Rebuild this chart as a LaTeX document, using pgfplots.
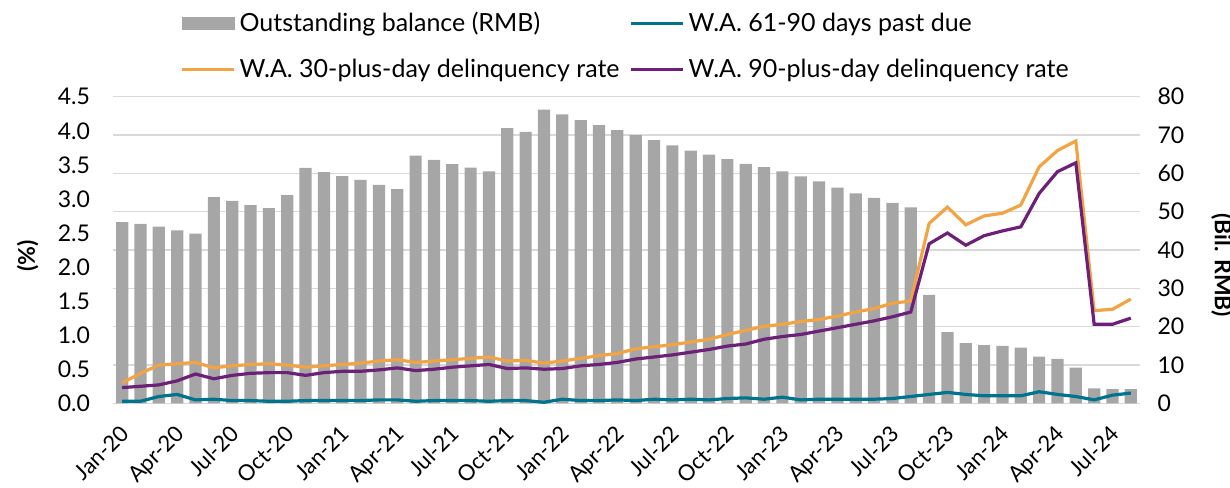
\documentclass[border=0pt]{standalone}
\usepackage{pgfplots}
\pgfplotsset{compat=1.18}
\usepackage{pgfplotstable}
\usepackage{fontspec}
\setmainfont{Lato}

\definecolor{barGray}{HTML}{A6A6A6}
\definecolor{gridGray}{HTML}{D9D9D9}
\definecolor{tealLine}{HTML}{00748C}
\definecolor{orangeLine}{HTML}{F2A444}
\definecolor{purpleLine}{HTML}{6D2077}

% month index, balance (bil. RMB), 61-90 dpd, 30+ rate, 90+ rate (%)
\pgfplotstableread{
i  bal   d61   d30   d90
0  47.3  0.03  0.30  0.23
1  46.8  0.03  0.44  0.25
2  46.1  0.10  0.56  0.27
3  45.1  0.13  0.58  0.33
4  44.3  0.05  0.60  0.43
5  53.8  0.06  0.52  0.36
6  52.8  0.04  0.55  0.41
7  51.7  0.04  0.57  0.44
8  50.9  0.03  0.58  0.45
9  54.3  0.03  0.56  0.45
10 61.4  0.04  0.53  0.41
11 60.3  0.04  0.55  0.45
12 59.3  0.04  0.57  0.47
13 58.3  0.04  0.59  0.47
14 57.0  0.05  0.62  0.49
15 55.9  0.05  0.64  0.52
16 64.6  0.03  0.60  0.48
17 63.5  0.04  0.62  0.50
18 62.4  0.04  0.64  0.53
19 61.5  0.04  0.66  0.55
20 60.5  0.03  0.68  0.57
21 71.8  0.04  0.62  0.51
22 70.8  0.04  0.63  0.52
23 76.6  0.015 0.59  0.50
24 75.4  0.06  0.62  0.51
25 73.9  0.04  0.66  0.55
26 72.6  0.04  0.70  0.57
27 71.3  0.05  0.73  0.60
28 70.0  0.04  0.80  0.65
29 68.7  0.06  0.83  0.68
30 67.3  0.05  0.86  0.71
31 65.9  0.06  0.90  0.75
32 64.9  0.05  0.94  0.79
33 63.7  0.07  1.01  0.84
34 62.5  0.08  1.07  0.87
35 61.6  0.06  1.13  0.94
36 60.5  0.09  1.16  0.98
37 59.2  0.05  1.20  1.01
38 57.9  0.06  1.23  1.06
39 56.3  0.06  1.28  1.11
40 54.8  0.06  1.34  1.16
41 53.6  0.06  1.39  1.21
42 52.3  0.07  1.47  1.27
43 51.1  0.10  1.50  1.34
44 28.3  0.13  2.64  2.34
45 18.6  0.16  2.88  2.50
46 15.7  0.13  2.62  2.32
47 15.2  0.11  2.75  2.46
48 15.0  0.11  2.79  2.53
49 14.5  0.11  2.91  2.59
50 12.2  0.17  3.47  3.08
51 11.6  0.13  3.71  3.40
52 9.3   0.10  3.85  3.53
53 3.9   0.05  1.36  1.16
54 3.7   0.12  1.38  1.16
55 3.7   0.15  1.53  1.25
}\datatable

\pgfplotsset{
  base/.style={
    width=513.5pt, height=153.3pt, scale only axis,
    xmin=-0.5, xmax=55.5,
    yticklabel style={font=\fontsize{11.5}{13}\selectfont},
    /pgf/number format/assume math mode=true,
  },
  linelegend/.style={legend image code/.code={
    \draw[#1, line width=1.6pt] (0pt,0pt) -- (26pt,0pt);}},
}

\begin{document}
\begin{tikzpicture}
% page frame, same proportions as the reference (axis box starts at the origin)
\useasboundingbox (-56.5pt,-41.85pt) rectangle (558.5pt,201.65pt);
% bars, right axis
\begin{axis}[base,
  ymin=0, ymax=80, ytick={0,10,...,80},
  axis y line*=right, axis x line*=bottom,
  y axis line style={draw=none},
  x axis line style={draw=gridGray, line width=0.8pt},
  ymajorgrids, grid style={gridGray, line width=0.6pt},
  ytick style={draw=none},
  yticklabel style={xshift=1pt},
  xtick=\empty, minor xtick={-0.5,2.5,...,54.5},
  minor x tick style={draw=gridGray, line width=0.8pt},
  minor tick length=4pt, tick align=outside,
  ylabel={\bfseries (Bil. RMB)},
  ylabel style={font=\fontsize{11.5}{13}\selectfont, at={(axis description cs:1.08,0.45)}, anchor=center, rotate=180},
]
\addplot[ybar, bar width=6.1pt, fill=barGray, draw=none] table[x=i, y=bal] {\datatable};
\end{axis}
% lines, left axis
\begin{axis}[base,
  ymin=0, ymax=4.5, ytick={0,0.5,...,4.5},
  axis y line*=left, axis x line*=bottom,
  y axis line style={draw=none}, x axis line style={draw=none},
  ytick style={draw=none}, xtick style={draw=none},
  yticklabel style={/pgf/number format/fixed, /pgf/number format/fixed zerofill,
    /pgf/number format/precision=1, xshift=-8pt},
  xtick={0,3,...,54},
  xticklabels={Jan-20,Apr-20,Jul-20,Oct-20,Jan-21,Apr-21,Jul-21,Oct-21,Jan-22,Apr-22,Jul-22,Oct-22,Jan-23,Apr-23,Jul-23,Oct-23,Jan-24,Apr-24,Jul-24},
  xticklabel style={font=\fontsize{11}{13}\selectfont, rotate=45, anchor=north east, xshift=-4.8pt, yshift=-2.7pt},
  ylabel={\bfseries (\%)},
  ylabel style={font=\fontsize{11.5}{13}\selectfont, at={(axis description cs:-0.083,0.48)}, anchor=center},
  legend columns=2,
  legend cell align=left,
  legend style={draw=none, fill=none, at={(0.5,1)}, anchor=south, yshift=4pt,
    font=\fontsize{12.5}{14}\selectfont, row sep=8pt,
    /tikz/every even column/.append style={column sep=3pt},
    nodes={inner xsep=2pt}},
]
\addlegendimage{legend image code/.code={\fill[barGray] (0pt,-3pt) rectangle (26pt,3pt);}}
\addlegendentry{Outstanding balance (RMB)}
\addplot[tealLine, line width=1.6pt, linelegend=tealLine] table[x=i, y=d61] {\datatable};
\addlegendentry{W.A. 61-90 days past due}
\addplot[orangeLine, line width=1.6pt, linelegend=orangeLine] table[x=i, y=d30] {\datatable};
\addlegendentry{W.A. 30-plus-day delinquency rate}
\addplot[purpleLine, line width=1.6pt, linelegend=purpleLine] table[x=i, y=d90] {\datatable};
\addlegendentry{W.A. 90-plus-day delinquency rate}
\end{axis}
\end{tikzpicture}
\end{document}
